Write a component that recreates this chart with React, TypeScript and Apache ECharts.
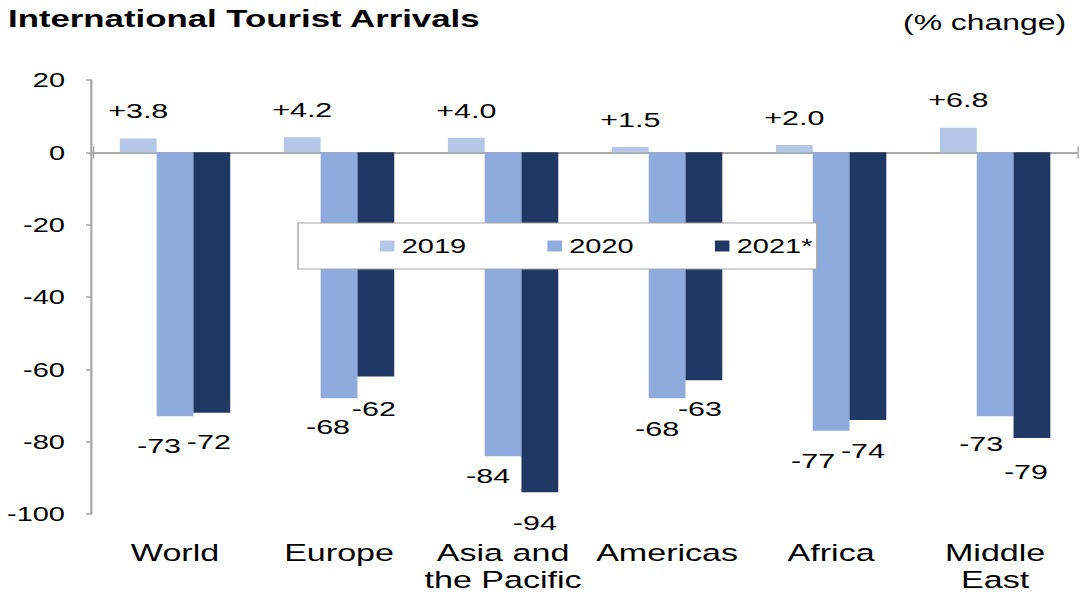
import React, { useEffect, useRef } from "react";
import * as echarts from "echarts";

const categories = ["World", "Europe", "Asia and\nthe Pacific", "Americas", "Africa", "Middle\nEast"];
const seriesNames = ["2019", "2020", "2021*"];
const values2019 = [3.8, 4.2, 4.0, 1.5, 2.0, 6.8];
const values2020 = [-73, -68, -84, -68, -77, -73];
const values2021 = [-72, -62, -94, -63, -74, -79];
const yTicks = { min: -100, max: 20, interval: 20 };

// label nudges (screen px) for the hand-placed labels below the negative bars
const nudge2020 = [[-16, 29], [-11, 29], [-15, 20], [-10, 31], [-18, 30], [-14, 27]];
const nudge2021 = [[-3, 29], [-2, 32], [-5, 30], [-4, 29], [-5, 31], [-6, 34]];

const SX = 1.45; // horizontal stretch of the original picture
const W = 1083;
const H = 595;
const FONT = "'Liberation Sans', Arial, sans-serif";

export default function App() {
  const ref = useRef<HTMLDivElement>(null);
  useEffect(() => {
    if (!ref.current) return;
    const chart = echarts.init(ref.current, null, { renderer: "svg" });
    const u = (px: number) => px / SX;
    const negLabel = (vals: number[], nudges: number[][]) =>
      vals.map((v, i) => ({
        value: v,
        label: { offset: [u(nudges[i][0]), nudges[i][1] - 10.5] },
      }));
    const axisGray = "#a6a6a6";
    const endTickOnly = (i: number) => i === categories.length - 1;
    chart.setOption({
      animation: false,
      backgroundColor: "#ffffff",
      textStyle: { fontFamily: FONT },
      title: [
        {
          text: "International Tourist Arrivals",
          left: u(8),
          top: 7,
          padding: 0,
          textStyle: { fontFamily: FONT, fontSize: 24, fontWeight: "bold", color: "#000" },
        },
        {
          text: "(% change)",
          right: u(17),
          top: 11,
          padding: 0,
          textStyle: { fontFamily: FONT, fontSize: 22, fontWeight: "normal", color: "#000" },
        },
      ],
      legend: {
        data: seriesNames,
        left: u(298),
        top: 223,
        orient: "horizontal",
        icon: "rect",
        itemWidth: 10,
        itemHeight: 11,
        itemGap: 56,
        padding: [13, 3, 13, u(82)],
        backgroundColor: "#ffffff",
        borderColor: axisGray,
        borderWidth: 1,
        z: 10,
        textStyle: { fontFamily: FONT, fontSize: 20, color: "#000" },
      },
      grid: {
        left: u(93),
        right: u(W - 1077),
        top: 80,
        bottom: H - 514,
        outerBoundsMode: "none",
        containLabel: false,
      },
      xAxis: [
        {
          type: "category",
          data: categories,
          position: "bottom",
          axisLine: { show: false, onZero: false },
          axisTick: { show: false },
          axisLabel: {
            color: "#000",
            fontFamily: FONT,
            fontSize: 23.5,
            lineHeight: 27,
            margin: 25,
            interval: 0,
            verticalAlign: "top",
          },
        },
        {
          type: "category",
          data: categories,
          position: "bottom",
          axisLine: { show: true, onZero: true, onZeroAxisIndex: 0, lineStyle: { color: axisGray, width: 1.5 } },
          axisTick: {
            show: true,
            inside: false,
            length: 6,
            interval: endTickOnly,
            lineStyle: { color: axisGray, width: 1 },
          },
          axisLabel: { show: false },
        },
        {
          type: "category",
          data: categories,
          position: "bottom",
          axisLine: { show: true, onZero: true, onZeroAxisIndex: 1, lineStyle: { color: axisGray, width: 1.5 } },
          axisTick: {
            show: true,
            inside: true,
            length: 6,
            interval: endTickOnly,
            lineStyle: { color: axisGray, width: 1 },
          },
          axisLabel: { show: false },
        },
      ],
      yAxis: [
        {
          type: "value",
          min: yTicks.min,
          max: yTicks.max,
          interval: yTicks.interval,
          offset: u(2),
          splitLine: { show: false },
          axisLine: { show: true, onZero: false, lineStyle: { color: axisGray, width: 1.5 } },
          axisTick: { show: true, length: u(5), lineStyle: { color: axisGray, width: 1.5 } },
          axisLabel: {
            color: "#000",
            fontFamily: FONT,
            fontSize: 20,
            margin: u(26),
          },
        },
        {
          type: "value",
          min: yTicks.min,
          max: yTicks.max,
          interval: yTicks.interval,
          position: "right",
          axisLine: { show: false, onZero: false },
          axisTick: { show: false },
          axisLabel: { show: false },
          splitLine: { show: false },
        },
      ],
      series: [
        {
          name: seriesNames[0],
          type: "bar",
          data: values2019,
          barWidth: u(36.8),
          barGap: "0%",
          itemStyle: { color: "#b4c7e7" },
          label: {
            show: true,
            position: "top",
            distance: 17,
            fontFamily: FONT,
            fontSize: 21,
            color: "#000",
            formatter: (p: any) => "+" + Number(p.value).toFixed(1),
          },
        },
        {
          name: seriesNames[1],
          type: "bar",
          data: negLabel(values2020, nudge2020),
          barWidth: u(36.8),
          barGap: "0%",
          itemStyle: { color: "#8faadc" },
          label: {
            show: true,
            position: "bottom",
            distance: 0,
            fontFamily: FONT,
            fontSize: 21,
            color: "#000",
            formatter: (p: any) => String(p.value),
          },
        },
        {
          name: seriesNames[2],
          type: "bar",
          data: negLabel(values2021, nudge2021),
          barWidth: u(36.8),
          barGap: "0%",
          itemStyle: { color: "#1f3864" },
          label: {
            show: true,
            position: "bottom",
            distance: 0,
            fontFamily: FONT,
            fontSize: 21,
            color: "#000",
            formatter: (p: any) => String(p.value),
          },
        },
      ],
    });
    return () => chart.dispose();
  }, []);
  return (
    <div
      ref={ref}
      style={{
        position: "absolute",
        left: 0,
        top: 0,
        width: W / SX,
        height: H,
        transform: `scaleX(${SX})`,
        transformOrigin: "0 0",
      }}
    />
  );
}
